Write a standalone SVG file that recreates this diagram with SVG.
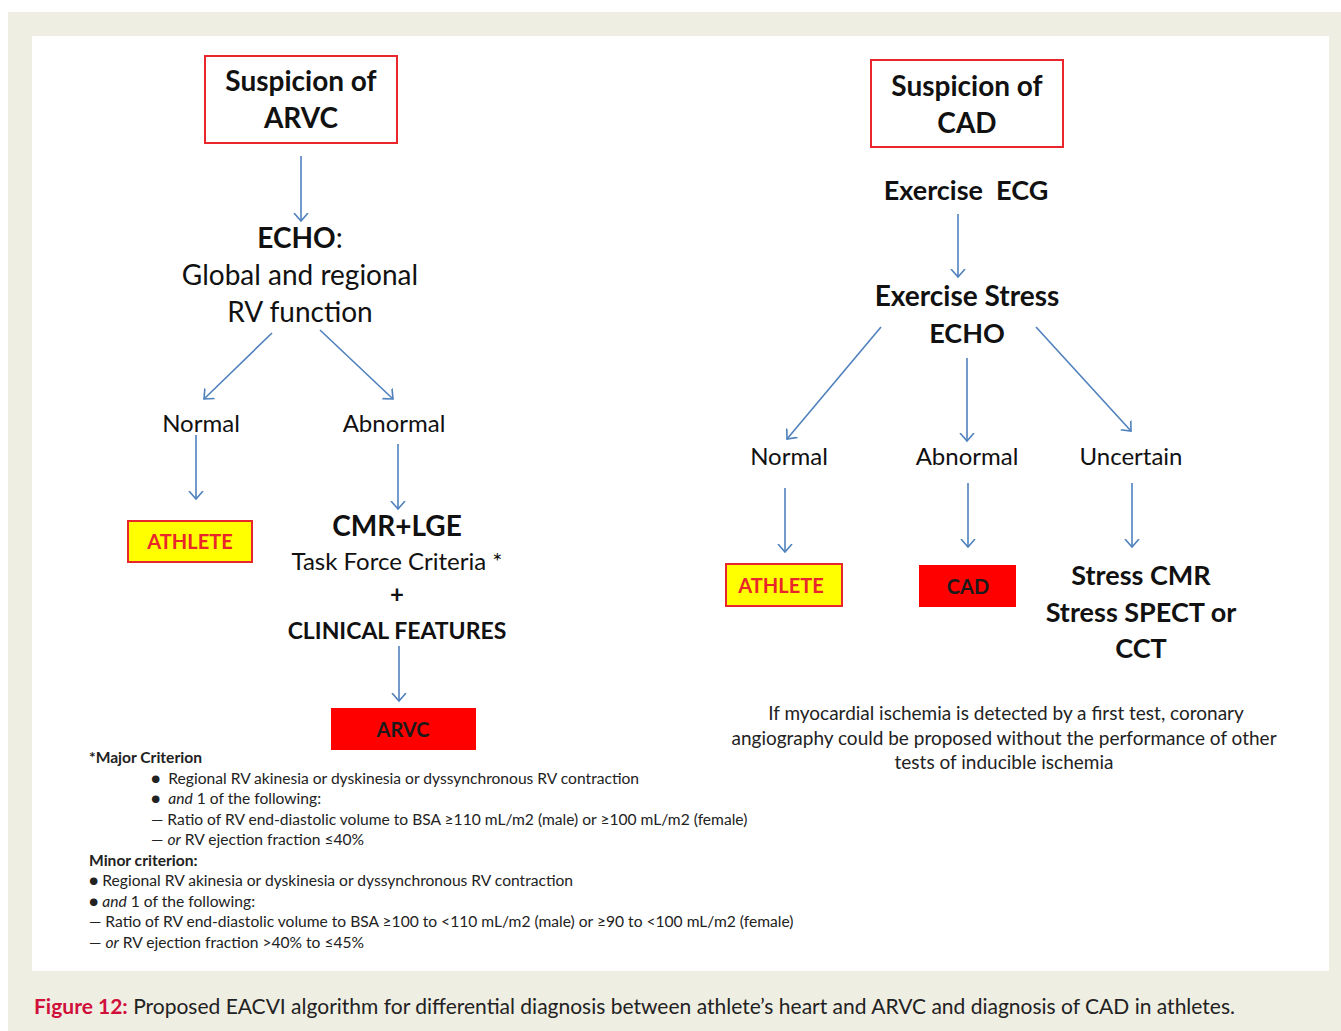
<svg xmlns="http://www.w3.org/2000/svg" width="1341" height="1031" viewBox="0 0 1341 1031">
<defs>
<marker id="ah" markerWidth="16" markerHeight="16" refX="8" refY="8" orient="auto" markerUnits="userSpaceOnUse">
<polyline points="0,1 8,8 0,15" fill="none" stroke="#4f81bd" stroke-width="1.6"/>
</marker>
<style>
.t{font-family:Lato,"Open Sans","Liberation Sans",sans-serif;fill:#111;text-anchor:middle}
.b{font-weight:bold}
.h{font-size:28px}
.m{font-size:24px}
.fn{font-family:Lato,"Open Sans","Liberation Sans",sans-serif;font-size:15.6px;fill:#222}
.note{font-family:Lato,"Open Sans","Liberation Sans",sans-serif;font-size:19px;fill:#222;text-anchor:middle}
.c{stroke:#4f81bd;stroke-width:1.6;fill:none;marker-end:url(#ah)}
.ob{fill:#fff;stroke:#e8262b;stroke-width:2}
.yb{fill:#ffff00;stroke:#e8262b;stroke-width:2}
.rb{fill:#ff0000;stroke:none}
.lbl{font-family:Lato,"Open Sans","Liberation Sans",sans-serif;font-weight:bold;font-size:20px;text-anchor:middle}
</style>
</defs>
<rect x="0" y="0" width="1341" height="1031" fill="#fff"/>
<rect x="8" y="12" width="1333" height="1019" fill="#efeee3"/>
<rect x="32" y="36" width="1297" height="935" fill="#fff"/>

<g id="connectors">
<line class="c" x1="301" y1="156" x2="301" y2="221"/>
<line class="c" x1="272" y1="333" x2="204" y2="399"/>
<line class="c" x1="320" y1="330" x2="393" y2="399"/>
<line class="c" x1="196" y1="435" x2="196" y2="499"/>
<line class="c" x1="398" y1="444" x2="398" y2="509"/>
<line class="c" x1="399" y1="646" x2="399" y2="701"/>
<line class="c" x1="958" y1="214" x2="958" y2="277"/>
<line class="c" x1="881" y1="327" x2="787" y2="439"/>
<line class="c" x1="967" y1="358" x2="967" y2="441"/>
<line class="c" x1="1036" y1="327" x2="1131" y2="431"/>
<line class="c" x1="785" y1="488" x2="785" y2="552"/>
<line class="c" x1="968" y1="483" x2="968" y2="547"/>
<line class="c" x1="1132" y1="483" x2="1132" y2="547"/>
</g>

<g id="n-suspicion-arvc">
<rect class="ob" x="205" y="56" width="192" height="87"/>
<text class="t b h" x="301" y="91">Suspicion of</text>
<text class="t b h" x="301" y="128">ARVC</text>
</g>
<g id="n-echo">
<text class="t h" x="300" y="248"><tspan class="b">ECHO</tspan>:</text>
<text class="t h" x="300" y="285">Global and regional</text>
<text class="t h" x="300" y="322">RV function</text>
</g>
<g id="n-normal-l"><text class="t m" x="201" y="432">Normal</text></g>
<g id="n-abnormal-l"><text class="t m" x="394" y="432">Abnormal</text></g>
<g id="n-athlete-l">
<rect class="yb" x="128" y="521" width="124" height="41"/>
<text class="lbl" x="190" y="549" fill="#e8262b">ATHLETE</text>
</g>
<g id="n-cmr">
<text class="t b h" x="397" y="536">CMR+LGE</text>
<text class="t m" x="397" y="570">Task Force Criteria *</text>
<text class="t b m" x="397" y="603">+</text>
<text class="t b" font-size="23" x="397" y="639">CLINICAL FEATURES</text>
</g>
<g id="n-arvc">
<rect class="rb" x="331" y="708" width="145" height="42"/>
<text class="lbl" x="403" y="737" fill="#1a1a1a">ARVC</text>
</g>

<g id="footnote">
<text class="fn" x="89" y="763" font-weight="bold">*Major Criterion</text>
<text class="fn" x="151" y="784" xml:space="preserve">●  Regional RV akinesia or dyskinesia or dyssynchronous RV contraction</text>
<text class="fn" x="151" y="804" xml:space="preserve">●  <tspan font-style="italic">and</tspan> 1 of the following:</text>
<text class="fn" x="151" y="825">— Ratio of RV end-diastolic volume to BSA ≥110 mL/m2 (male) or ≥100 mL/m2 (female)</text>
<text class="fn" x="151" y="845">— <tspan font-style="italic">or</tspan> RV ejection fraction ≤40%</text>
<text class="fn" x="89" y="866" font-weight="bold">Minor criterion:</text>
<text class="fn" x="89" y="886">● Regional RV akinesia or dyskinesia or dyssynchronous RV contraction</text>
<text class="fn" x="89" y="907">● <tspan font-style="italic">and</tspan> 1 of the following:</text>
<text class="fn" x="89" y="927">— Ratio of RV end-diastolic volume to BSA ≥100 to &lt;110 mL/m2 (male) or ≥90 to &lt;100 mL/m2 (female)</text>
<text class="fn" x="89" y="948">— <tspan font-style="italic">or</tspan> RV ejection fraction &gt;40% to ≤45%</text>
</g>

<g id="n-suspicion-cad">
<rect class="ob" x="871" y="60" width="192" height="87"/>
<text class="t b h" x="967" y="96">Suspicion of</text>
<text class="t b h" x="967" y="133">CAD</text>
</g>
<g id="n-ex-ecg"><text class="t b" font-size="27" x="966" y="200" xml:space="preserve">Exercise  ECG</text></g>
<g id="n-ex-stress">
<text class="t b" font-size="28" x="967" y="306">Exercise Stress</text>
<text class="t b" font-size="27" x="967" y="343">ECHO</text>
</g>
<g id="n-normal-r"><text class="t m" x="789" y="465">Normal</text></g>
<g id="n-abnormal-r"><text class="t m" x="967" y="465">Abnormal</text></g>
<g id="n-uncertain"><text class="t m" x="1131" y="465">Uncertain</text></g>
<g id="n-athlete-r">
<rect class="yb" x="726" y="564" width="116" height="42"/>
<text class="lbl" x="781" y="593" fill="#e8262b">ATHLETE</text>
</g>
<g id="n-cad">
<rect class="rb" x="919" y="565" width="97" height="42"/>
<text class="lbl" x="968" y="594" fill="#1a1a1a">CAD</text>
</g>
<g id="n-stress">
<text class="t b" font-size="27" x="1141" y="585">Stress CMR</text>
<text class="t b" font-size="27" x="1141" y="622">Stress SPECT or</text>
<text class="t b" font-size="27" x="1141" y="658">CCT</text>
</g>
<g id="note">
<text class="note" x="1006" y="720">If myocardial ischemia is detected by a first test, coronary</text>
<text class="note" x="1004" y="745">angiography could be proposed without the performance of other</text>
<text class="note" x="1004" y="769">tests of inducible ischemia</text>
</g>

<g id="caption">
<text x="34" y="1014" font-family="Lato,'Open Sans','Liberation Sans',sans-serif" font-size="21" fill="#222"><tspan font-weight="bold" fill="#d0103a">Figure 12:</tspan> Proposed EACVI algorithm for differential diagnosis between athlete’s heart and ARVC and diagnosis of CAD in athletes.</text>
</g>
</svg>
